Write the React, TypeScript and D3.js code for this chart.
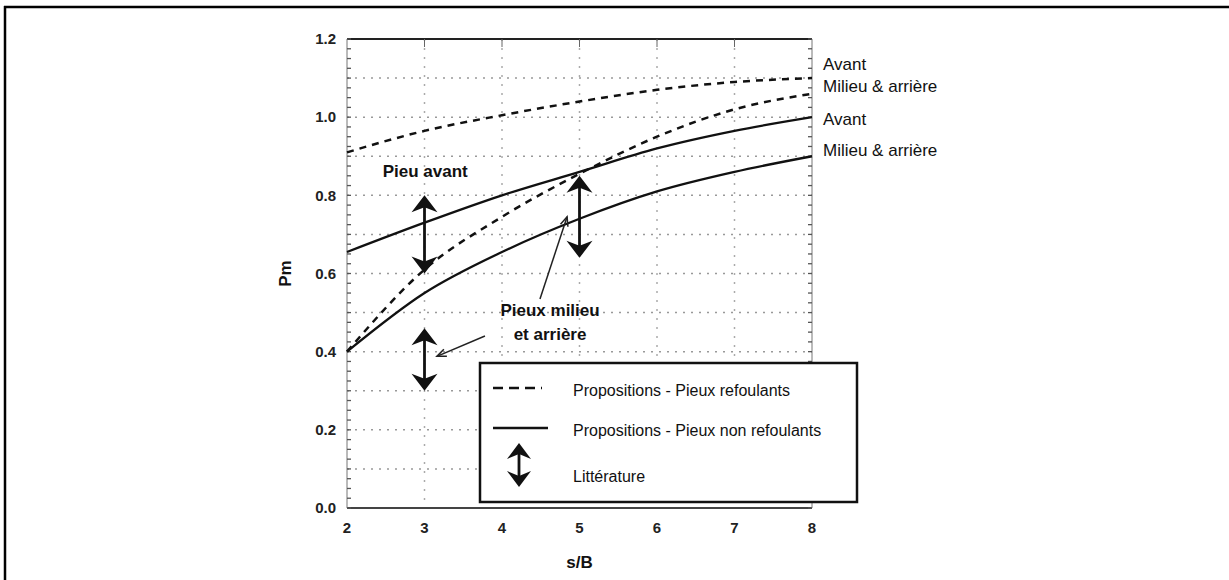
import { useMemo } from "react";
import * as d3 from "d3";

const W = 1229;
const H = 580;

// s/B values where the curves were read
const SB = [2, 3, 4, 5, 6, 7, 8];
// Propositions - Pieux refoulants (dashed)
const AVANT_REFOULANTS = [0.91, 0.965, 1.005, 1.04, 1.07, 1.09, 1.1];
const MILIEU_REFOULANTS = [0.4, 0.61, 0.745, 0.855, 0.95, 1.02, 1.06];
// Propositions - Pieux non refoulants (solid)
const AVANT_NON_REFOULANTS = [0.655, 0.73, 0.8, 0.86, 0.92, 0.965, 1.0];
const MILIEU_NON_REFOULANTS = [0.4, 0.55, 0.655, 0.74, 0.81, 0.86, 0.9];

const X_TICKS = [2, 3, 4, 5, 6, 7, 8];
const Y_TICKS = [0, 0.2, 0.4, 0.6, 0.8, 1.0, 1.2];
const Y_GRID = [0.1, 0.2, 0.3, 0.4, 0.5, 0.6, 0.7, 0.8, 0.9, 1.0, 1.1];

// Littérature ranges: [s/B, low, high]
const LITTERATURE = [
  [3, 0.6, 0.8],
  [3, 0.3, 0.46],
  [5, 0.64, 0.85],
];

// right-hand curve labels: [text, Pm]
const END_LABELS: [string, number][] = [
  ["Avant", 1.135],
  ["Milieu & arrière", 1.08],
  ["Avant", 0.995],
  ["Milieu & arrière", 0.915],
];

// pointer lines "Pieux milieu et arrière": [x0, y0, x1, y1] in data units
const POINTERS = [
  [4.49, 0.535, 4.84, 0.745],
  [3.78, 0.44, 3.16, 0.388],
];

const FONT = "'Liberation Sans', Arial, sans-serif";

function DoubleArrow({ x, y0, y1, hw = 13, hh = 17 }: any) {
  // y0 = top pixel, y1 = bottom pixel
  const top = `M${x},${y0} L${x - hw},${y0 + hh} L${x},${y0 + hh - 5} L${x + hw},${y0 + hh} Z`;
  const bot = `M${x},${y1} L${x - hw},${y1 - hh} L${x},${y1 - hh + 5} L${x + hw},${y1 - hh} Z`;
  return (
    <g>
      <line x1={x} x2={x} y1={y0 + 6} y2={y1 - 6} stroke="#111" strokeWidth={2.8} />
      <path d={top} fill="#111" />
      <path d={bot} fill="#111" />
    </g>
  );
}

export default function App() {
  const x = useMemo(() => d3.scaleLinear().domain([2, 8]).range([347, 812]), []);
  const y = useMemo(() => d3.scaleLinear().domain([0, 1.2]).range([508, 39]), []);

  const line = d3
    .line<number>()
    .x((_, i) => x(SB[i]))
    .y((d) => y(d))
    .curve(d3.curveMonotoneX);

  const minor = d3.range(0, 1.2001, 0.025);

  return (
    <div style={{ position: "absolute", left: 0, top: 0 }}>
      <svg width={W} height={H} style={{ display: "block", background: "#fff" }} fontFamily={FONT}>
        {/* outer frame */}
        <line x1={4} x2={W} y1={7} y2={7} stroke="#000" strokeWidth={2.5} />
        <line x1={5} x2={5} y1={6} y2={H} stroke="#000" strokeWidth={2.5} />

        {/* grid */}
        {Y_GRID.map((v) => (
          <line key={"h" + v} x1={x(2)} x2={x(8)} y1={y(v)} y2={y(v)} stroke="#999" strokeWidth={1.5} strokeDasharray="2 6" />
        ))}
        {X_TICKS.slice(1, -1).map((v) => (
          <line key={"v" + v} x1={x(v)} x2={x(v)} y1={y(1.2)} y2={y(0)} stroke="#aaa" strokeWidth={1.5} strokeDasharray="2 7" />
        ))}

        {/* axes frame */}
        <line x1={x(2)} x2={x(8)} y1={y(1.2)} y2={y(1.2)} stroke="#222" strokeWidth={2} />
        <line x1={x(2)} x2={x(8)} y1={y(0)} y2={y(0)} stroke="#444" strokeWidth={1.8} />
        <line x1={x(2)} x2={x(2)} y1={y(1.2)} y2={y(0)} stroke="#777" strokeWidth={1} />
        <line x1={x(8)} x2={x(8)} y1={y(1.2)} y2={y(0)} stroke="#777" strokeWidth={1} />
        {minor.map((v) => (
          <g key={"m" + v}>
            <line x1={x(2)} x2={x(2) + 4} y1={y(v)} y2={y(v)} stroke="#555" strokeWidth={1.3} />
            <line x1={x(8)} x2={x(8) - 4} y1={y(v)} y2={y(v)} stroke="#555" strokeWidth={1.3} />
          </g>
        ))}
        {X_TICKS.slice(1, -1).map((v) => (
          <line key={"t" + v} x1={x(v)} x2={x(v)} y1={y(1.2)} y2={y(1.2) + 8} stroke="#666" strokeWidth={1} />
        ))}

        {/* tick labels */}
        {X_TICKS.map((v) => (
          <text key={"xl" + v} x={x(v)} y={y(0) + 25} textAnchor="middle" fontSize={15} fontWeight="bold" fill="#222">
            {v}
          </text>
        ))}
        {Y_TICKS.map((v) => (
          <text key={"yl" + v} x={x(2) - 11} y={y(v)} dy="0.35em" textAnchor="end" fontSize={15} fontWeight="bold" fill="#222">
            {v.toFixed(1)}
          </text>
        ))}
        <text x={x(5)} y={y(0) + 60} textAnchor="middle" fontSize={17} fontWeight="bold" fill="#111">
          s/B
        </text>
        <text transform={`translate(${291},${y(0.6)}) rotate(-90)`} textAnchor="middle" fontSize={17} fontWeight="bold" fill="#111">
          Pm
        </text>

        {/* curves */}
        <path d={line(AVANT_REFOULANTS) || ""} fill="none" stroke="#111" strokeWidth={2.5} strokeDasharray="7 6" />
        <path d={line(MILIEU_REFOULANTS) || ""} fill="none" stroke="#111" strokeWidth={2.5} strokeDasharray="7 6" />
        <path d={line(AVANT_NON_REFOULANTS) || ""} fill="none" stroke="#111" strokeWidth={2.3} />
        <path d={line(MILIEU_NON_REFOULANTS) || ""} fill="none" stroke="#111" strokeWidth={2.3} />

        {/* littérature arrows */}
        {LITTERATURE.map(([s, lo, hi], i) => (
          <DoubleArrow key={"a" + i} x={x(s)} y0={y(hi)} y1={y(lo)} />
        ))}

        {/* annotations */}
        <text x={x(2.46)} y={y(0.846)} fontSize={17} fontWeight="bold" fill="#111">
          Pieu avant
        </text>
        <text x={x(4.62)} y={y(0.49)} textAnchor="middle" fontSize={17} fontWeight="bold" fill="#111">
          Pieux milieu
        </text>
        <text x={x(4.62)} y={y(0.43)} textAnchor="middle" fontSize={17} fontWeight="bold" fill="#111">
          et arrière
        </text>
        {POINTERS.map(([a, b, c, d], i) => {
          const x0 = x(a), y0 = y(b), x1 = x(c), y1 = y(d);
          const ang = Math.atan2(y1 - y0, x1 - x0);
          const L = 10;
          const p1 = [x1 - L * Math.cos(ang - 0.4), y1 - L * Math.sin(ang - 0.4)];
          const p2 = [x1 - L * Math.cos(ang + 0.4), y1 - L * Math.sin(ang + 0.4)];
          return (
            <g key={"p" + i} stroke="#222" strokeWidth={1.5} fill="none">
              <line x1={x0} y1={y0} x2={x1} y2={y1} />
              <path d={`M${p1[0]},${p1[1]} L${x1},${y1} L${p2[0]},${p2[1]}`} />
            </g>
          );
        })}

        {/* right labels */}
        {END_LABELS.map(([t, v], i) => (
          <text key={"e" + i} x={x(8) + 11} y={y(v)} dy="0.35em" fontSize={17} fill="#111">
            {t}
          </text>
        ))}

        {/* legend */}
        <g>
          <rect x={480} y={363} width={377} height={139} fill="#fff" stroke="#111" strokeWidth={2.5} />
          <line x1={493} x2={542} y1={388} y2={388} stroke="#111" strokeWidth={2.5} strokeDasharray="10 6" />
          <text x={573} y={390} dy="0.35em" fontSize={16} fill="#111">
            Propositions - Pieux refoulants
          </text>
          <line x1={493} x2={548} y1={428} y2={428} stroke="#111" strokeWidth={2.5} />
          <text x={573} y={430} dy="0.35em" fontSize={16} fill="#111">
            Propositions - Pieux non refoulants
          </text>
          <DoubleArrow x={519} y0={443} y1={487} hw={12} hh={16} />
          <text x={573} y={476} dy="0.35em" fontSize={16} fill="#111">
            Littérature
          </text>
        </g>
      </svg>
    </div>
  );
}
